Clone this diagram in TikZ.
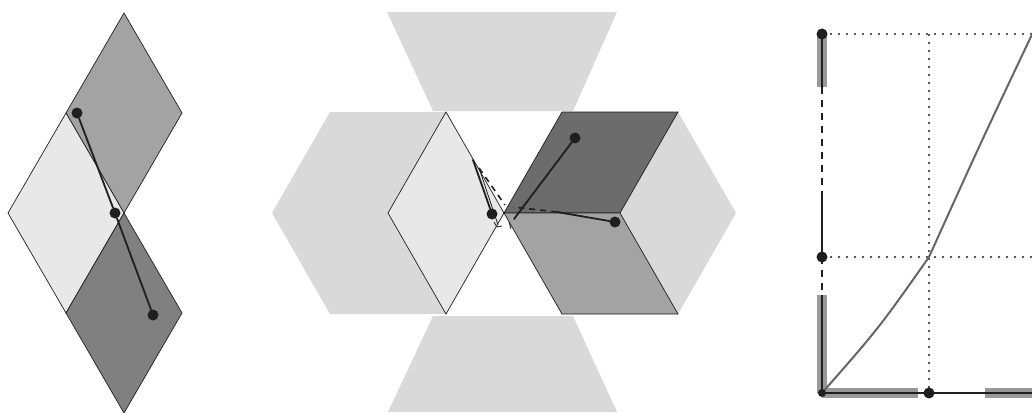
\documentclass[tikz,border=0pt]{standalone}
\usepackage{tikz}
\usetikzlibrary{arrows.meta}
\definecolor{tilepale}{gray}{0.91}
\definecolor{tilelight}{gray}{0.85}
\definecolor{tilemid}{gray}{0.64}
\definecolor{tiledark}{gray}{0.50}
\definecolor{ink}{gray}{0.12}
\definecolor{bandgray}{gray}{0.60}

\begin{document}
\begin{tikzpicture}[x=1pt,y=-1pt,
tile/.style={draw=ink,line width=0.7pt},
seg/.style={ink,line width=1.8pt,line cap=round},
thinseg/.style={ink,line width=0.8pt},
dashseg/.style={ink,line width=1.6pt,dash pattern=on 6pt off 5pt},
dot/.style={circle,fill=ink,inner sep=0pt,minimum size=11pt},
grid/.style={black!65,line width=1.7pt,dash pattern=on 2pt off 6pt},
band/.style={fill=bandgray},
curve/.style={black!60,line width=2pt}]
\useasboundingbox (0,0) rectangle (1032,412);
\clip (0,0) rectangle (1032,412);
% left: three rhombi round one vertex
\filldraw[tile,fill=tilemid] (124,213)--(182,113)--(124,13)--(66,113)--cycle;
\filldraw[tile,fill=tilepale] (124,213)--(66,113)--(8,213)--(66,313)--cycle;
\filldraw[tile,fill=tiledark] (124,213)--(66,313)--(124,413)--(182,313)--cycle;
\node[dot] (p1) at (77,113) {};
\node[dot] (p2) at (115,213) {};
\node[dot] (p3) at (153,315) {};
\draw[seg] (p1)--(p2);
\draw[seg] (p2)--(p3);
% middle: hexagons and trapezoids
\fill[tilelight] (387,12)--(617,12)--(573,111)--(433,111)--cycle;
\fill[tilelight] (433,316)--(573,316)--(617,412)--(388,412)--cycle;
\fill[tilelight] (272,213)--(330,112)--(446,112)--(504,213)--(446,314)--(330,314)--cycle;
\fill[tilelight] (504,213)--(562,112)--(678,112)--(736,213)--(678,314)--(562,314)--cycle;
\filldraw[tile,fill=tilepale] (504,213)--(446,112)--(388,213)--(446,314)--cycle;
\filldraw[tile,fill=tiledark!85!black] (504,213)--(562,112)--(678,112)--(620,213)--cycle;
\filldraw[tile,fill=tilemid] (504,213)--(620,213)--(678,314)--(562,314)--cycle;
\node[dot] (a) at (575,138) {};
\node[dot] (b) at (615,222) {};
\node[dot] (c) at (492,214) {};
\coordinate (ae) at (514,219);
\coordinate (bm) at (557,212);
\coordinate (be) at (513,207);
\coordinate (ce) at (473,160);
\coordinate (t1) at (479,168);
\coordinate (t2) at (498,225);
\coordinate (de) at (505,205);
\draw[seg] (a)--(ae);
\draw[seg] (b)--(bm);
\draw[dashseg] (bm)--(be);
\draw[seg] (c)--(ce);
\draw[thinseg] (t1)--(t2);
\draw[dashseg] (t1)--(de);
\draw[thinseg] (494,222)--(497,227)--(502,226);
\draw[thinseg] (509,222)--(511,229);
% right: graph on two axes
\coordinate (o) at (822,393);
\coordinate (k) at (929,257);
\coordinate (ytop) at (822,34);
\coordinate (ymid) at (822,257);
\coordinate (xmid) at (929,393);
\coordinate (y3) at (822,87);
\coordinate (y4) at (822,197);
\coordinate (y5) at (822,295);
\coordinate (xr) at (1032,393);
\fill[band] (817,34) rectangle (827,87);
\fill[band] (817,295) rectangle (827,393);
\fill[band] (822,388) rectangle (918,398);
\fill[band] (985,388) rectangle (1032,398);
\draw[grid] (ytop)--(1032,34);
\draw[grid] (ymid)--(1032,257);
\draw[grid] (929,34)--(xmid);
\draw[ink,line width=1.5pt] (o)--(xr);
\draw[ink,line width=2pt] (ytop)--(y3);
\draw[ink,line width=1.8pt,dash pattern=on 7pt off 6pt] (y3)--(y4);
\draw[ink,line width=1.8pt] (y4)--(ymid);
\draw[ink,line width=1.8pt,dash pattern=on 7pt off 6pt] (ymid)--(y5);
\draw[ink,line width=2pt] (y5)--(o);
\draw[curve] (o) .. controls (879,328) .. (k) .. controls (981,142) .. (1036,26);
\node[dot] (y1) at (ytop) {};
\node[dot] (y2) at (ymid) {};
\node[dot] (x1) at (xmid) {};
\node[dot,minimum size=8pt] (o0) at (o) {};
\end{tikzpicture}
\end{document}
